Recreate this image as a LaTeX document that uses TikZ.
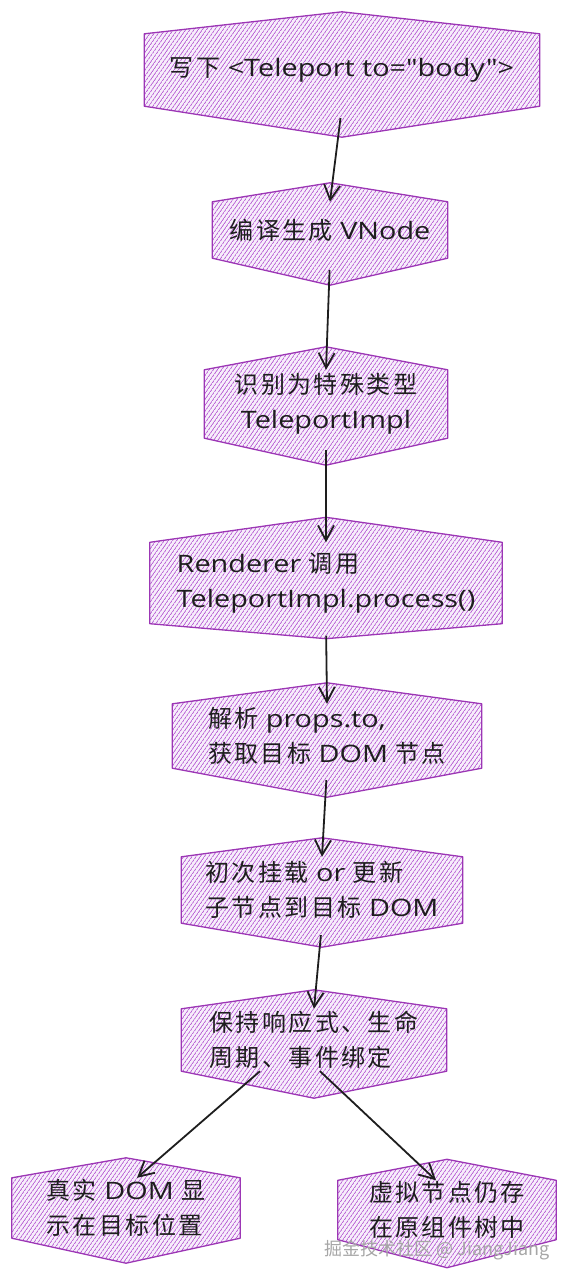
\documentclass[tikz,border=0pt]{standalone}
\usepackage{fontspec}
\setmainfont{Open Sans}[FakeStretch=1.2, Ligatures=TeXOff]
\newfontfamily\cjk{Noto Sans CJK SC}[LetterSpace=10]
\newfontfamily\cjkplain{Noto Sans CJK SC}
\usepackage{tikz}
\usetikzlibrary{arrows.meta, positioning, backgrounds, patterns.meta, calc}
\definecolor{VioLine}{HTML}{9C36B5}
\definecolor{VioHatch}{HTML}{B456D2}
\definecolor{VioFill}{HTML}{F7EEFB}
\definecolor{Ink}{HTML}{1E1E1E}

\tikzdeclarepattern{
  name=hachure,
  parameters={\pgfkeysvalueof{/pgf/pattern keys/size},
              \pgfkeysvalueof{/pgf/pattern keys/angle},
              \pgfkeysvalueof{/pgf/pattern keys/line width}},
  bounding box={(0,-0.5*\pgfkeysvalueof{/pgf/pattern keys/line width}) and
                (\pgfkeysvalueof{/pgf/pattern keys/size},
                 0.5*\pgfkeysvalueof{/pgf/pattern keys/line width})},
  tile size={(\pgfkeysvalueof{/pgf/pattern keys/size},
              \pgfkeysvalueof{/pgf/pattern keys/size})},
  tile transformation={rotate=\pgfkeysvalueof{/pgf/pattern keys/angle}},
  defaults={size/.initial=4pt, angle/.initial=55, line width/.initial=.6pt},
  code={\draw[line width=\pgfkeysvalueof{/pgf/pattern keys/line width}]
          (0,0) -- (\pgfkeysvalueof{/pgf/pattern keys/size},0);},
}

\tikzset{
  step box/.style={inner sep=0, text=Ink, align=left,
                   font=\fontsize{24}{35}\selectfont},
  hexshape/.style={draw=VioLine, line width=1.3pt, line join=round,
                   preaction={fill=VioFill},
                   pattern={hachure[size=3.4pt, angle=55, line width=.7pt]},
                   pattern color=VioHatch},
  flow/.style={draw=Ink, line width=1.8pt,
               -{Straight Barb[length=15pt, width=16pt]}},
}

% hexagon around a node: name, top peak, bottom peak
\newcommand{\hexbox}[3]{
  \begin{scope}[on background layer]
    \path[hexshape] (#1.north west) -- ([yshift=#2]#1.north) -- (#1.north east)
      -- (#1.south east) -- ([yshift=-#3]#1.south) -- (#1.south west) -- cycle;
  \end{scope}
}

\begin{document}
\begin{tikzpicture}[x=1pt, y=-1pt]
\useasboundingbox (0,0) rectangle (566,1279);

\node[step box, minimum width=395pt, minimum height=72pt] (n1) at (342,70)
  {{\cjk 写下} <Teleport to="body">};
\node[step box, minimum width=235pt, minimum height=56pt] (n2) at (330,230)
  {{\cjk 编译生成} VNode};
\node[step box, minimum width=243pt, minimum height=68pt, align=center] (n3) at (326,404)
  {{\cjk 识别为特殊类型}\\TeleportImpl};
\node[step box, minimum width=352pt, minimum height=81pt] (n4) at (326,583)
  {Renderer {\cjk 调用}\\TeleportImpl.process()};
\node[step box, minimum width=309pt, minimum height=64pt] (n5) at (327,736)
  {{\cjk 解析} props.to,\\{\cjk 获取目标} DOM {\cjk 节点}};
\node[step box, minimum width=281pt, minimum height=66pt] (n6) at (322,890)
  {{\cjk 初次挂载} or {\cjk 更新}\\{\cjk 子节点到目标} DOM};
\node[step box, minimum width=265pt, minimum height=62pt] (n7) at (314,1040)
  {{\cjk 保持响应式、生命}\\{\cjk 周期、事件绑定}};
\node[step box, minimum width=228pt, minimum height=60pt] (n8) at (126,1208)
  {{\cjk 真实} DOM {\cjk 显}\\{\cjk 示在目标位置}};
\node[step box, minimum width=218pt, minimum height=59pt] (n9) at (447,1210)
  {{\cjk 虚拟节点仍存}\\{\cjk 在原组件树中}};

\foreach \n/\t/\b in {n1/22pt/31pt, n2/19pt/27pt, n3/23pt/27pt, n4/25pt/15pt,
                      n5/21pt/29pt, n6/19pt/24pt, n7/19pt/27pt, n8/20pt/25pt,
                      n9/21pt/28pt}
{
  \hexbox{\n}{\t}{\b}
}

\foreach \a/\b in {n1/n2, n2/n3, n3/n4, n4/n5, n5/n6, n6/n7}
{
  \draw[flow, shorten <=12pt] (\a.south) -- (\b.north);
}
\draw[flow] ([xshift=-54pt]n7.south) -- ([xshift=11pt]n8.north);
\draw[flow] ([xshift=6pt]n7.south) -- ([xshift=-11pt]n9.north);

\node[text=gray!70, font=\cjkplain\fontsize{18}{20}\selectfont] (wm) at (437,1250)
  {掘金技术社区 @ JiangJiang};
\end{tikzpicture}
\end{document}
